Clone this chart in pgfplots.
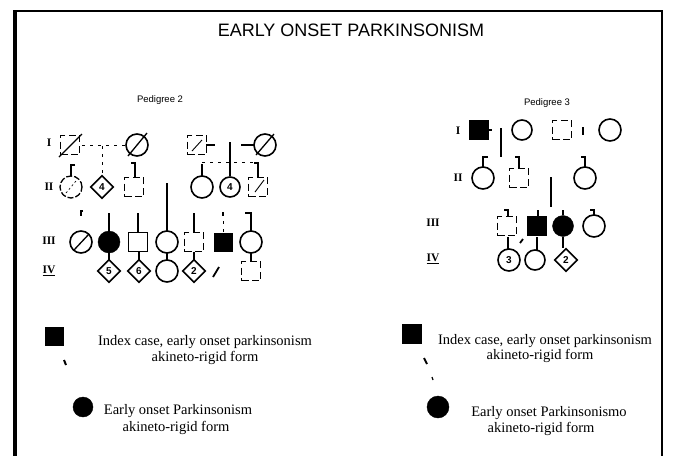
\documentclass[border=0pt]{standalone}
\usepackage{pgfplots}
\pgfplotsset{compat=1.18}
\usepackage{fontspec}
\setmainfont{Liberation Serif}
\newfontfamily\sans{Liberation Sans}
\pgfplotsset{
  ln/.style={no markers, line width=1.3pt, black},
  dl/.style={no markers, line width=0.8pt, black, dash pattern=on 3pt off 5pt},
  osq/.style={only marks, mark=square, mark size=9.5pt, mark options={solid, line width=1.6pt, fill=white}},
  dsq/.style={only marks, mark=square, mark size=9.5pt, mark options={line width=1.6pt, dash pattern=on 7pt off 3.5pt}},
  fsq/.style={only marks, mark=square*, mark size=9.5pt, mark options={fill=black, draw=black}},
  oci/.style={only marks, mark=o, mark size=11pt, mark options={line width=1.6pt}},
  fci/.style={only marks, mark=*, mark size=11pt, mark options={fill=black, draw=black}},
  dia/.style={only marks, mark=square, mark size=8pt, mark options={rotate=45, line width=1.6pt}},
}
\newcommand{\gen}{\bfseries\fontsize{11.5}{12}\selectfont}
\newcommand{\num}{\sans\bfseries\fontsize{10}{11}\selectfont}
\newcommand{\leg}{\fontsize{14.5}{16}\selectfont}
\begin{document}
\begin{tikzpicture}
\begin{axis}[
  x=1pt, y=1pt, y dir=reverse,
  xmin=0, xmax=673, ymin=0, ymax=456,
  axis lines=none, clip=false,
]
\addplot[draw=none] coordinates {(0,0) (673,456)};
% frame
\addplot[no markers, line width=4pt] coordinates {(15,11) (15,456)};
\addplot[no markers, line width=1.4pt] coordinates {(13,11) (663,11)};
\addplot[no markers, line width=2.4pt] coordinates {(662,11) (662,456)};

\node[font=\sans\fontsize{18}{20}\selectfont] at (axis cs:351,30) {EARLY ONSET PARKINSONISM};

% ===== Pedigree 2 =====
\node[font=\sans\fontsize{9.5}{10}\selectfont] at (axis cs:160,100) {Pedigree 2};
\node[font=\gen] at (axis cs:49,143) {I};
\node[font=\gen] at (axis cs:49,187) {II};
\node[font=\gen] at (axis cs:49,241) {III};
\node[font=\gen] at (axis cs:49,271) {\underline{IV}};

% lines
\addplot[dl] coordinates {(82,145) (126,145)};
\addplot[dl] coordinates {(102,146) (102,175)};
\addplot[ln] coordinates {(206,145) (215,145)};
\addplot[ln] coordinates {(241,145) (254,145)};
\addplot[ln] coordinates {(230,142) (230,176)};
\addplot[dl] coordinates {(202,162) (258,162)};
\addplot[ln] coordinates {(202,164) (202,176)};
\addplot[ln] coordinates {(254,163) (258,163) (258,177)};
\addplot[ln] coordinates {(75,165) (71,165) (71,176)};
\addplot[ln] coordinates {(131,163) (135,163) (135,177)};
\addplot[ln] coordinates {(167,183) (167,231)};
\addplot[ln] coordinates {(83,211) (81,211) (81,216)};
\addplot[ln] coordinates {(109,213) (109,231)};
\addplot[ln] coordinates {(138,213) (138,232)};
\addplot[ln] coordinates {(194,213) (194,232)};
\addplot[ln] coordinates {(223,212) (223,216)};
\addplot[dl] coordinates {(223,221) (223,232)};
\addplot[ln] coordinates {(245,213) (251,213) (251,231)};
\addplot[ln] coordinates {(109,253) (109,260)};
\addplot[ln] coordinates {(139,252) (139,260)};
\addplot[ln] coordinates {(167,253) (167,260)};
\addplot[ln] coordinates {(194,252) (194,260)};
\addplot[ln] coordinates {(251,253) (251,261)};
\addplot[no markers, line width=1.8pt] coordinates {(213,277) (219,267)};

% symbols
\addplot[dsq] coordinates {(70,145) (197,145) (134,187) (258,187) (194,242) (251,271)};
\addplot[osq] coordinates {(138,242)};
\addplot[fsq, mark size=9pt] coordinates {(223,242)};
\addplot[oci] coordinates {(137,145) (265,145) (202,187) (167,242) (251,242) (167,271)};
\addplot[oci, mark options={line width=1.3pt, dash pattern=on 6pt off 2pt}] coordinates {(71,187)};
\addplot[oci, mark size=10pt] coordinates {(230,187)};
\addplot[oci] coordinates {(81,242)};
\addplot[fci] coordinates {(109,242)};
\addplot[dia] coordinates {(102,187) (109,271) (139,271) (194,271)};
% slashes
\addplot[ln] coordinates {(59,157) (82,134)};
\addplot[ln] coordinates {(128,156) (147,133)};
\addplot[ln] coordinates {(256,155) (274,134)};
\addplot[ln, line width=0.9pt] coordinates {(192,151) (202,140)};
\addplot[ln, line width=0.9pt] coordinates {(255,192) (264,180)};
\addplot[dl, line width=0.7pt, dash pattern=on 2pt off 2.5pt] coordinates {(66,193) (76,181)};
\addplot[ln] coordinates {(74,250) (89,234)};
% numbers
\node[font=\num] at (axis cs:102,187) {4};
\node[font=\num] at (axis cs:230,187) {4};
\node[font=\num] at (axis cs:109,271) {5};
\node[font=\num] at (axis cs:139,271) {6};
\node[font=\num] at (axis cs:194,271) {2};

% ===== Pedigree 3 =====
\node[font=\sans\fontsize{9.5}{10}\selectfont] at (axis cs:547,103) {Pedigree 3};
\node[font=\gen] at (axis cs:458,131) {I};
\node[font=\gen] at (axis cs:458,178) {II};
\node[font=\gen] at (axis cs:433,223) {III};
\node[font=\gen] at (axis cs:433,259) {\underline{IV}};

\addplot[ln] coordinates {(488,130) (492,130)};
\addplot[ln] coordinates {(501,128) (501,157)};
\addplot[ln] coordinates {(488,157) (483,157) (483,167)};
\addplot[ln] coordinates {(515,157) (519,157) (519,168)};
\addplot[ln] coordinates {(583,127) (583,135)};
\addplot[ln] coordinates {(551,177) (551,207)};
\addplot[ln] coordinates {(581,157) (585,157) (585,167)};
\addplot[ln] coordinates {(504,210) (508,210) (508,216)};
\addplot[ln] coordinates {(538,210) (538,216)};
\addplot[ln] coordinates {(563,210) (563,215)};
\addplot[ln] coordinates {(590,210) (594,210) (594,215)};
\addplot[ln] coordinates {(508,237) (508,249)};
\addplot[ln] coordinates {(537,237) (537,250)};
\addplot[ln] coordinates {(563,237) (563,248)};
\addplot[no markers, line width=1.8pt] coordinates {(520,243) (523,239)};

\addplot[fsq] coordinates {(479,130) (537,226)};
\addplot[dsq] coordinates {(562,130) (519,178) (507,226)};
\addplot[oci, mark size=10pt] coordinates {(522,130) (535,260)};
\addplot[oci] coordinates {(610,130) (483,178) (585,178) (594,226) (509,260)};
\addplot[fci, mark size=10.5pt] coordinates {(563,226)};
\addplot[dia] coordinates {(566,260)};
\node[font=\num] at (axis cs:509,260) {3};
\node[font=\num] at (axis cs:566,260) {2};

% ===== Legends =====
\addplot[fsq, mark size=9pt] coordinates {(54,336)};
\addplot[no markers, line width=2pt] coordinates {(64,360) (66,365)};
\addplot[fci, mark size=10pt] coordinates {(83,407)};
\node[font=\leg] at (axis cs:205,342) {Index case, early onset parkinsonism};
\node[font=\leg] at (axis cs:205,358) {akineto-rigid form};
\node[font=\leg] at (axis cs:178,411) {Early onset Parkinsonism};
\node[font=\leg] at (axis cs:176,428) {akineto-rigid form};

\addplot[fsq] coordinates {(412,334)};
\addplot[no markers, line width=2pt] coordinates {(424,358) (427,364)};
\addplot[no markers, line width=1.2pt] coordinates {(432,377) (433,380)};
\addplot[fci, mark size=11pt] coordinates {(438,407)};
\node[font=\leg] at (axis cs:545,341) {Index case, early onset parkinsonism};
\node[font=\leg] at (axis cs:540,356) {akineto-rigid form};
\node[font=\leg] at (axis cs:549,413) {Early onset Parkinsonismo};
\node[font=\leg] at (axis cs:541,429) {akineto-rigid form};
\end{axis}
\end{tikzpicture}
\end{document}
